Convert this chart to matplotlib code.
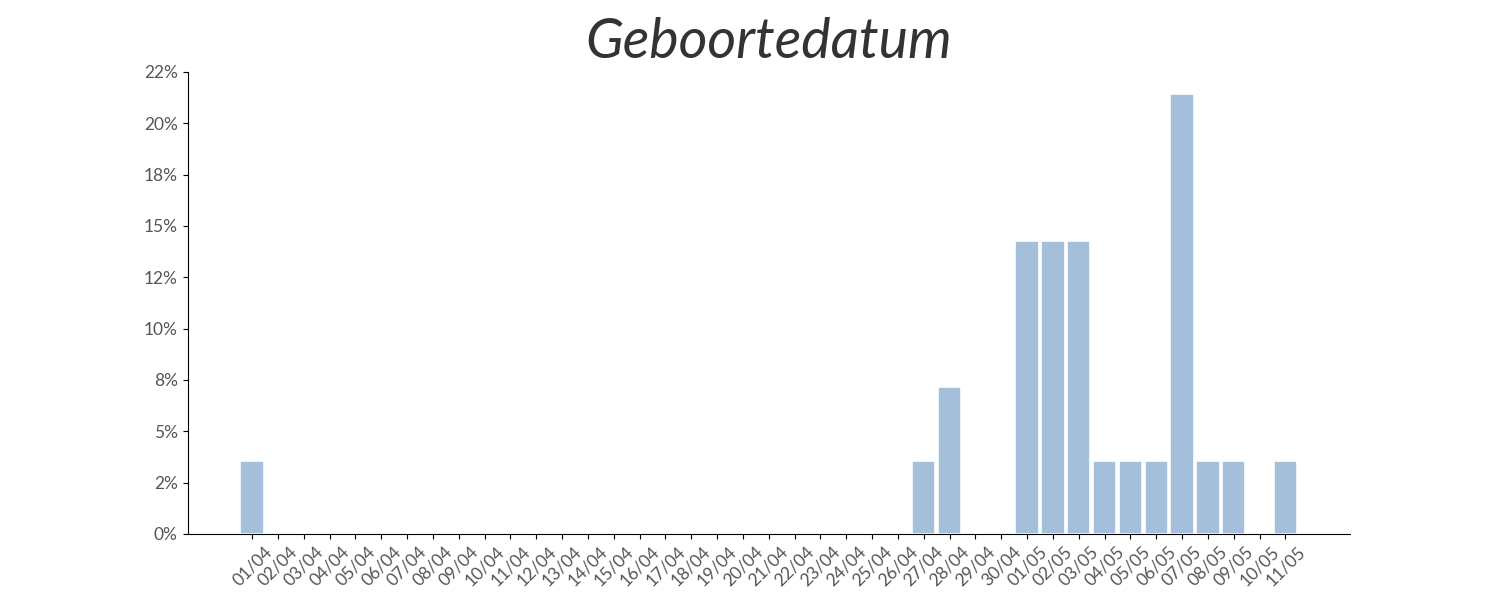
import matplotlib
matplotlib.use("Agg")
import matplotlib.pyplot as plt
from matplotlib.ticker import FuncFormatter, MultipleLocator

dates = [f"{d:02d}/04" for d in range(1, 31)] + [f"{d:02d}/05" for d in range(1, 12)]
counts = [1] + [0] * 25 + [1, 2, 0, 0] + [4, 4, 4, 1, 1, 1, 6, 1, 1, 0, 1]
total = sum(counts)
percent = [c / total * 100 for c in counts]

plt.rcParams['font.family'] = ['Lato', 'DejaVu Sans']

fig = plt.figure(figsize=(15, 6), dpi=100)
ax = fig.add_subplot(111)
x = list(range(len(dates)))
ax.bar(x, percent, width=0.9, color='#a3bfd9', edgecolor='white', linewidth=1.2)

ax.set_xticks(x)
ax.set_xticklabels(dates, rotation=45, fontsize=12.5, color='#555555')
ax.set_xlim(-2.5, 42.5)
ax.set_ylim(0, 22.5)
ax.yaxis.set_major_locator(MultipleLocator(2.5))
ax.yaxis.set_major_formatter(FuncFormatter(lambda v, p: f"{v:.0f}%"))
for label in ax.yaxis.get_ticklabels():
    label.set_fontsize(12.5)
    label.set_color('#555555')

ax.spines['top'].set_visible(False)
ax.spines['right'].set_visible(False)
ax.set_title("Geboortedatum", fontsize=40, color='#333333', style='italic', pad=10)

fig.savefig("out.png", dpi=100)
